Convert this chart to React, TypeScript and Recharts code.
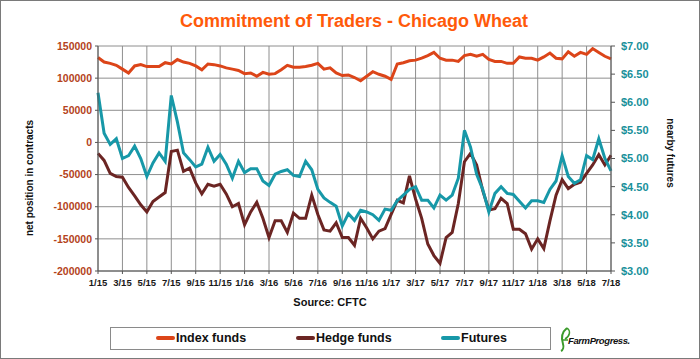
import React from 'react';
import { LineChart, Line, XAxis, YAxis, CartesianGrid } from 'recharts';

const xTickLabels = [
  '1/15', '3/15', '5/15', '7/15', '9/15', '11/15', '1/16', '3/16', '5/16', '7/16', '9/16',
  '11/16', '1/17', '3/17', '5/17', '7/17', '9/17', '11/17', '1/18', '3/18', '5/18', '7/18',
];

// net positions in thousand contracts, one value every half month from 1/15
const indexFunds = [
  132, 125, 123, 120, 114, 108, 119, 121, 118, 118,
  118, 124, 122, 129, 125, 123, 119, 113, 122, 121,
  119, 116, 114, 112, 107, 108, 103, 109, 106, 107,
  113, 120, 117, 117, 118, 120, 123, 114, 116, 108,
  104, 105, 101, 96, 103, 110, 106, 103, 98, 122,
  124, 127, 128, 131, 135, 140, 131, 128, 128, 126,
  135, 137, 134, 137, 129, 126, 126, 123, 123, 133,
  131, 131, 128, 133, 139, 131, 130, 141, 134, 140,
  137, 146, 140, 134, 130,
];

const hedgeFunds = [
  -17, -28, -48, -53, -54, -70, -83, -97, -108, -92,
  -85, -78, -14, -12, -45, -40, -63, -80, -65, -68,
  -65, -80, -100, -95, -128, -108, -93, -118, -148, -122,
  -122, -140, -110, -118, -118, -82, -112, -136, -138, -125,
  -148, -148, -160, -118, -133, -150, -138, -134, -112, -90,
  -94, -52, -88, -118, -158, -176, -188, -148, -140, -95,
  -30, -17, -35, -75, -105, -103, -87, -95, -135, -135,
  -142, -166, -150, -165, -122, -82, -58, -72, -65, -62,
  -48, -35, -19, -35, -20,
];

// nearby futures, $/bu
const futures = [
  6.17, 5.45, 5.25, 5.35, 5.0, 5.05, 5.22, 5.0, 4.68, 4.92,
  5.1, 4.95, 6.12, 5.65, 5.1, 4.98, 4.85, 4.9, 5.2, 4.95,
  5.07, 4.9, 4.65, 4.95, 4.75, 4.82, 4.82, 4.6, 4.52, 4.72,
  4.77, 4.8, 4.7, 4.68, 4.95, 4.8, 4.45, 4.3, 4.22, 4.15,
  3.8, 4.02, 3.9, 4.08, 4.05, 4.0, 3.9, 4.1, 4.08, 4.25,
  4.35, 4.45, 4.5, 4.26, 4.26, 4.12, 4.35, 4.26, 4.35, 4.65,
  5.5, 5.2, 4.72, 4.45, 4.05, 4.38, 4.5, 4.38, 4.36, 4.24,
  4.12, 4.25, 4.25, 4.22, 4.45, 4.6, 5.05, 4.68, 4.56, 4.62,
  5.05, 4.98, 5.35, 5.0, 4.78,
];

const leftTicks = [-200000, -150000, -100000, -50000, 0, 50000, 100000, 150000];
const rightTicks = [3, 3.5, 4, 4.5, 5, 5.5, 6, 6.5, 7];

const series = [
  { key: 'index', name: 'Index funds', color: '#dc4519', axis: 'left' },
  { key: 'hedge', name: 'Hedge funds', color: '#6b2523', axis: 'left' },
  { key: 'futures', name: 'Futures', color: '#1798a8', axis: 'right' },
];

const font = '"Liberation Sans", Arial, sans-serif';

const data = indexFunds.map((v, i) => ({
  m: i * 0.5,
  index: v * 1000,
  hedge: hedgeFunds[i] * 1000,
  futures: futures[i],
}));

export default function App() {
  return (
    <div style={{ position: 'absolute', left: 0, top: 0, width: 700, height: 359, background: '#fff', fontFamily: font }}>
      <div style={{ position: 'absolute', left: 0, top: 11, width: 708, textAlign: 'center', color: '#ff5a0a', fontSize: 18, fontWeight: 'bold' }}>
        Commitment of Traders - Chicago Wheat
      </div>
      <LineChart width={700} height={359} data={data} margin={{ top: 46, right: 0, left: 0, bottom: 68 }}>
        <CartesianGrid yAxisId="left" stroke="#8e8e8e" strokeWidth={1} />
        <XAxis
          dataKey="m"
          type="number"
          domain={[0, 42]}
          ticks={xTickLabels.map((_, i) => i * 2)}
          interval={0}
          tickFormatter={(v) => xTickLabels[v / 2]}
          height={20}
          tick={{ fill: '#1a1a1a', fontSize: 9.5, fontWeight: 'bold', fontFamily: font }}
          tickSize={3}
          tickMargin={5}
          axisLine={{ stroke: '#555' }}
          tickLine={{ stroke: '#555' }}
        />
        <YAxis
          yAxisId="left"
          orientation="left"
          width={98}
          domain={[-200000, 150000]}
          ticks={leftTicks}
          interval={0}
          tick={{ fill: '#b4431c', fontSize: 10.5, fontWeight: 'bold', fontFamily: font }}
          tickSize={3}
          tickMargin={3}
          axisLine={{ stroke: '#555' }}
          tickLine={{ stroke: '#555' }}
        />
        <YAxis
          yAxisId="right"
          orientation="right"
          width={89}
          domain={[3, 7]}
          ticks={rightTicks}
          interval={0}
          tickFormatter={(v) => `$${v.toFixed(2)}`}
          tick={{ fill: '#18909a', fontSize: 11, fontWeight: 'bold', fontFamily: font }}
          tickSize={4}
          tickMargin={6}
          axisLine={{ stroke: '#555' }}
          tickLine={{ stroke: '#555' }}
        />
        {series.map((s) => (
          <Line
            key={s.key}
            yAxisId={s.axis}
            dataKey={s.key}
            name={s.name}
            stroke={s.color}
            strokeWidth={3}
            dot={false}
            type="linear"
            isAnimationActive={false}
          />
        ))}
      </LineChart>
      <div style={{ position: 'absolute', left: 29, top: 178, width: 0, height: 0 }}>
        <div style={{ position: 'absolute', transform: 'translate(-50%, -50%) rotate(-90deg)', whiteSpace: 'nowrap', fontSize: 10, fontWeight: 'bold', color: '#111' }}>
          net position in contracts
        </div>
      </div>
      <div style={{ position: 'absolute', left: 670, top: 153, width: 0, height: 0 }}>
        <div style={{ position: 'absolute', transform: 'translate(-50%, -50%) rotate(90deg)', whiteSpace: 'nowrap', fontSize: 10, fontWeight: 'bold', color: '#111' }}>
          nearby futures
        </div>
      </div>
      <div style={{ position: 'absolute', left: 230, top: 296, width: 200, textAlign: 'center', fontSize: 11, fontWeight: 'bold', color: '#111' }}>
        Source: CFTC
      </div>
      <div style={{ position: 'absolute', left: 110, top: 327, width: 441, height: 23, boxSizing: 'border-box', border: '1px solid #8a8a8a' }}>
        {series.map((s, i) => (
          <div key={s.key} style={{ position: 'absolute', left: [45, 185, 330][i], top: 3, display: 'flex', alignItems: 'center', fontSize: 12.5, fontWeight: 'bold', color: '#111' }}>
            <span style={{ display: 'inline-block', width: 19, height: 4, borderRadius: 2, background: s.color, marginRight: 1 }} />
            {s.name}
          </div>
        ))}
      </div>
      <div style={{ position: 'absolute', left: 558, top: 326, width: 80, height: 26 }}>
        <svg width={16} height={26} style={{ position: 'absolute', left: 0, top: 0 }}>
          <path d="M9 2 C4 6 3 12 5 18 C6 21 5 24 3 25" stroke="#3a9a2a" strokeWidth={2} fill="none" />
          <path d="M9 2 C13 5 12 10 7 13" stroke="#3a9a2a" strokeWidth={1.5} fill="none" />
          <path d="M4 14 L10 14" stroke="#3a9a2a" strokeWidth={1.5} />
        </svg>
        <div style={{ position: 'absolute', left: 10, top: 9, fontSize: 9.5, fontStyle: 'italic', fontWeight: 'bold', color: '#111', letterSpacing: -0.4 }}>
          FarmProgress.
        </div>
      </div>
      <div style={{ position: 'absolute', left: 0, top: 0, width: 700, height: 359, boxSizing: 'border-box', border: '1px solid #7a7a7a', pointerEvents: 'none' }} />
    </div>
  );
}
